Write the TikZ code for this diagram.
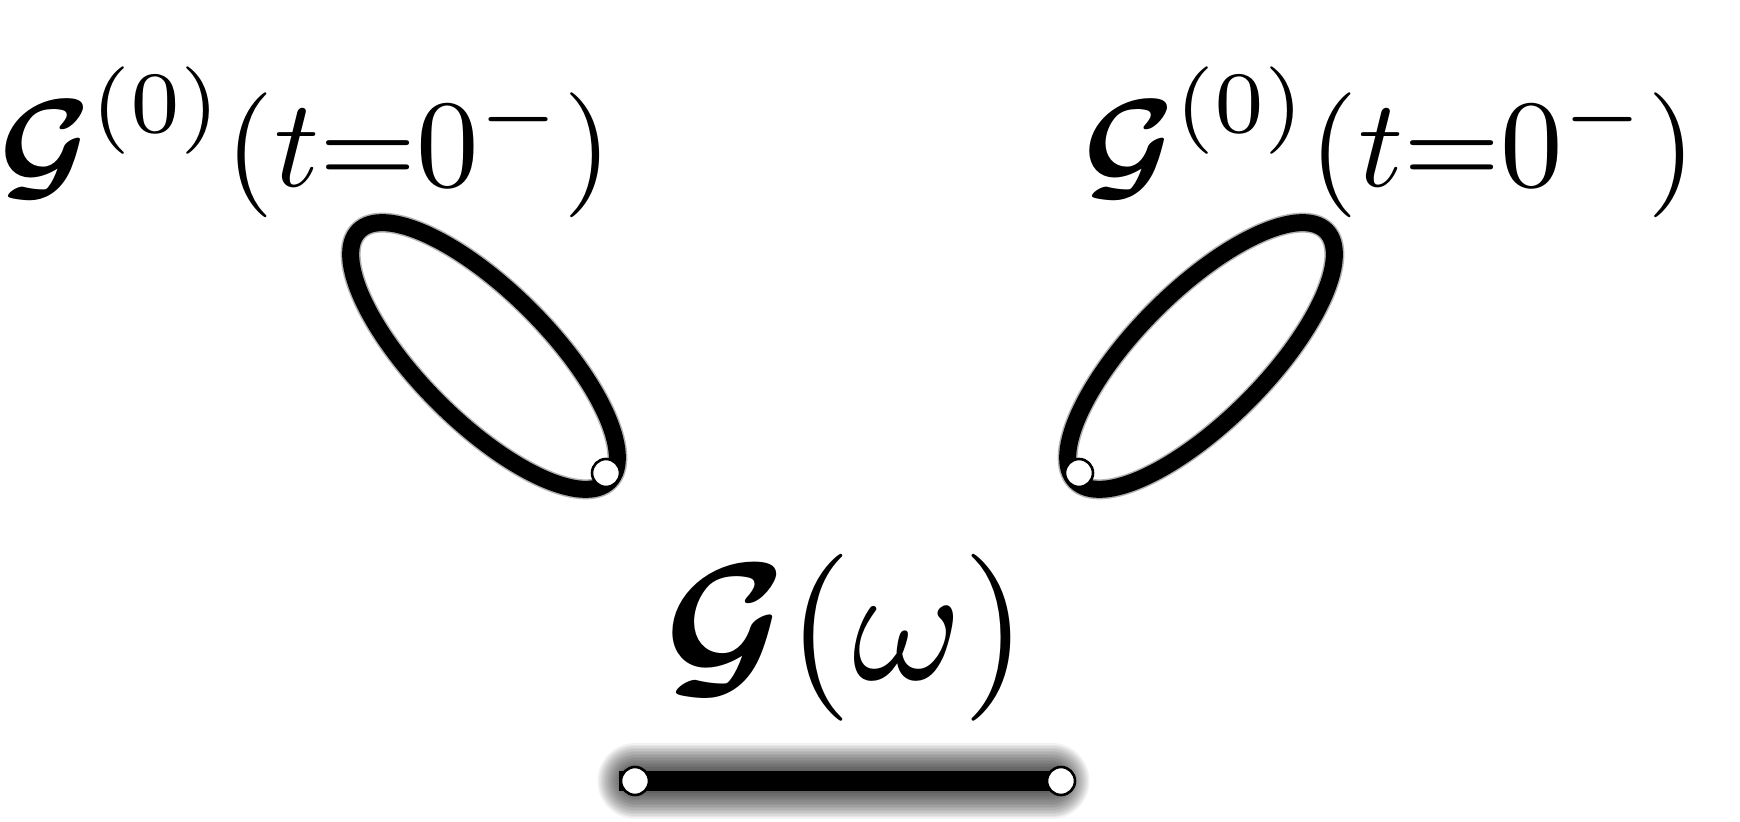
\documentclass[tikz,border=0pt]{standalone}
\usepackage{amsmath}
\usepackage{bm}
\tikzset{
  dotnode/.style={circle, draw=black, fill=white, line width=1.3pt, minimum size=14pt, inner sep=0pt},
  loopline/.style={line width=8.5pt, black},
  loophalo/.style={line width=10pt, black, opacity=0.3},
  barline/.style={line width=10pt, black},
  shadowline/.style={line cap=round, black, opacity=0.05},
  toplabel/.style={inner sep=0pt, anchor=base west, font=\normalsize, scale=6.25, transform shape},
  biglabel/.style={inner sep=0pt, anchor=base west, font=\normalsize, scale=8.35, transform shape}
}
\begin{document}
\begin{tikzpicture}[x=0.5pt, y=-0.5pt]
\useasboundingbox (0,0) rectangle (1740,822);
% labels
\node[toplabel] (gl) at (-3,187) {$\bm{\mathcal{G}}^{(0)}(t{=}0^{-})$};
\node[toplabel] (gr) at (1081,187) {$\bm{\mathcal{G}}^{(0)}(t{=}0^{-})$};
\node[biglabel] (gw) at (661,680) {$\bm{\mathcal{G}}(\omega)$};
% vertices
\coordinate (cl) at (484,356);
\coordinate (cr) at (1201,356);
\coordinate (bl) at (635,781);
\coordinate (br) at (1061,781);
% loops
\draw[loophalo, rotate around={-45:(cl)}] (cl) ellipse [x radius=88.5pt, y radius=32.5pt];
\draw[loophalo, rotate around={45:(cr)}] (cr) ellipse [x radius=88.5pt, y radius=32.5pt];
\draw[loopline, rotate around={-45:(cl)}] (cl) ellipse [x radius=88.5pt, y radius=32.5pt];
\draw[loopline, rotate around={45:(cr)}] (cr) ellipse [x radius=88.5pt, y radius=32.5pt];
% shadow of the propagator
\foreach \w in {12,13.5,...,38} {
  \draw[shadowline, line width=\w pt] (bl) -- ([xshift=-4.5pt]br);
}
\draw[barline, shorten <=-8pt] (bl) -- (br);
% dots
\node[dotnode] (vl) at (606,473) {};
\node[dotnode] (vr) at (1079,473) {};
\node[dotnode] (dl) at (bl) {};
\node[dotnode] (dr) at (br) {};
\end{tikzpicture}
\end{document}
